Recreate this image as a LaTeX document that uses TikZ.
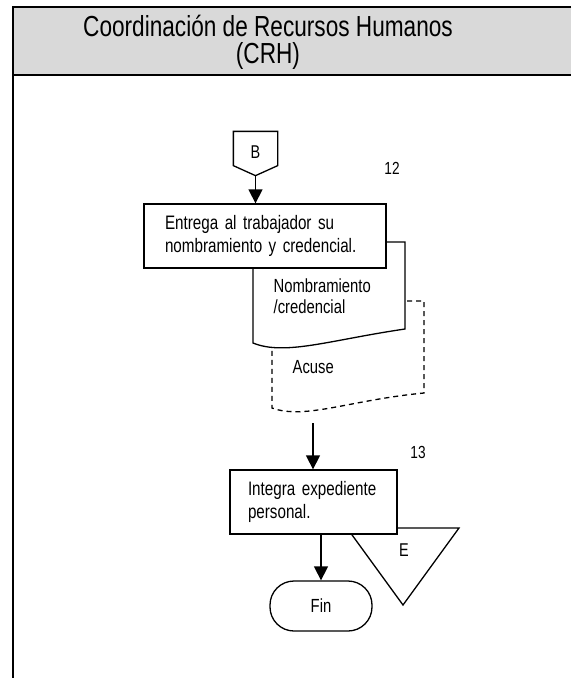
\documentclass[tikz,border=0pt]{standalone}
\usepackage{fontspec}
\setmainfont{Liberation Sans}[FakeStretch=0.78]
\usetikzlibrary{calc, arrows.meta}

\begin{document}
\begin{tikzpicture}[x=1pt, y=-1pt, line width=1.3pt,
  caja/.style={draw, fill=white, minimum height=64pt, align=left,
    font=\fontsize{19.5}{23.5}\selectfont},
  etiqueta/.style={inner sep=0pt, font=\fontsize{19}{21}\selectfont},
  numero/.style={inner sep=0pt, font=\fontsize{17.5}{19}\selectfont},
  flecha/.style={-{Triangle[length=14pt, width=14pt]}}]

\useasboundingbox (0,0) rectangle (571,678);

% encabezado de la columna
\fill[gray!30] (13,7) rectangle (571,75);
\draw[line width=2.5pt] (571,7) -- (13,7) -- (13,678);
\draw[line width=2.5pt] (13,75) -- (571,75);
\node[font=\fontsize{29}{27}\selectfont, align=center] (titulo) at (268,42)
  {Coordinación de Recursos Humanos\\(CRH)};

% conector B
\node[font=\fontsize{18.5}{20}\selectfont, minimum width=43pt, minimum height=40pt, inner sep=0pt] (B) at (255.5,152) {B};
\draw (B.north west) -- (B.north east) -- ($(B.south east)+(0,-7)$)
  -- ($(B.south)+(0,3)$) coordinate (Btip) -- ($(B.south west)+(0,-7)$) -- cycle;
\node[numero] (n12) at (392,168) {12};

% documentos (acuse detras)
\draw[dashed, dash pattern=on 5pt off 4pt, fill=white] (272,301) -- (424,301) -- (424,393)
  .. controls (350,400) and (305,420) .. (272,408) -- cycle;
\node[etiqueta, anchor=base west] (acuse) at (292,373) {Acuse};
\draw[fill=white] (253,242) -- (405,242) -- (405,329)
  .. controls (330,340) and (285,356) .. (253,343) -- cycle;
\node[etiqueta, align=left, anchor=north west] (nombramiento) at (273,278)
  {Nombramiento\\/credencial};
\coordinate (salida) at (313,423);

% paso 12
\node[caja, minimum width=242pt, text width=200pt, inner xsep=21pt] (entrega) at (265,236)
  {Entrega al trabajador su\\nombramiento y credencial.};

% paso 13
\node[numero] (n13) at (418,452) {13};
\draw[fill=white] (347,528) -- (459,528) -- (403,605) -- cycle;
\node[font=\fontsize{18.5}{20}\selectfont, inner sep=0pt] (E) at (404,550) {E};
\node[caja, minimum width=167pt, text width=131pt, inner xsep=18pt] (integra) at (313.5,502)
  {Integra expediente\\personal.};

% fin
\node[draw, rounded corners=24pt, minimum width=102pt, minimum height=50pt,
  font=\fontsize{19}{21}\selectfont] (fin) at (321,606) {Fin};

% flechas
\draw[flecha] (Btip) -- (Btip |- entrega.north);
\draw[flecha] (salida) -- (salida |- integra.north);
\draw[flecha] (integra.south -| fin.north) -- (fin.north);

\end{tikzpicture}
\end{document}
